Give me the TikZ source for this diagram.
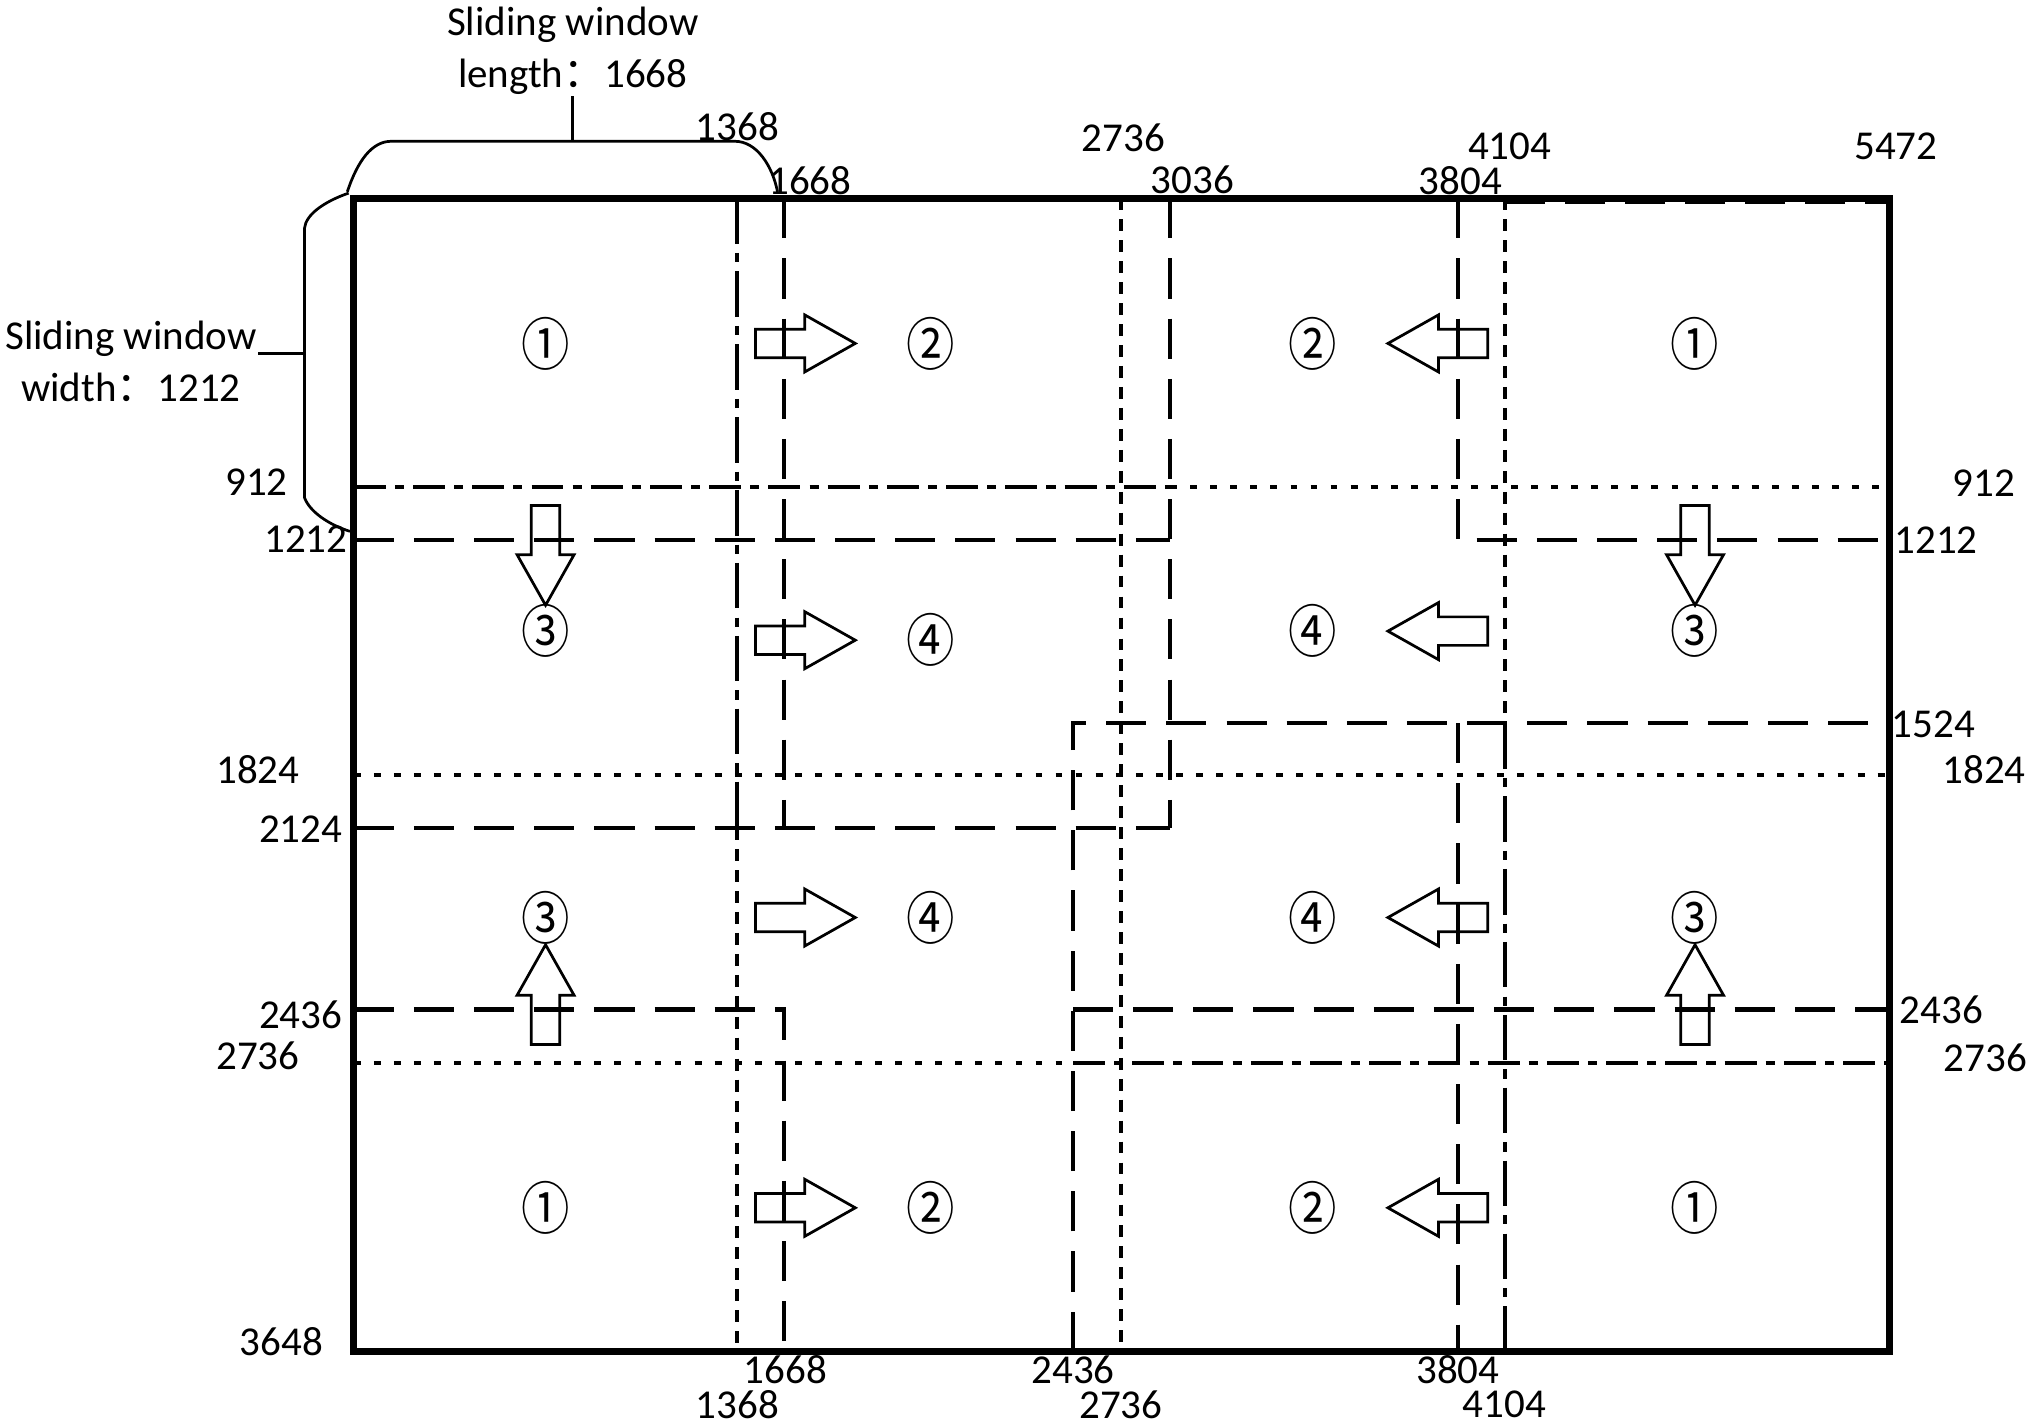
\documentclass[tikz,border=0pt]{standalone}
\usepackage{graphicx}
\usepackage{fontspec}
\setmainfont{Carlito}
\newfontfamily\cjk{Noto Sans CJK SC}
\usetikzlibrary{positioning}
\newcommand{\circled}[1]{\scalebox{0.85}[1]{#1}}

\begin{document}
\begin{tikzpicture}[
      x=0.01cm, y=-0.01cm,
      frame/.style={line width=1.5pt},
      dashedline/.style={line width=0.9pt, dash pattern=on 8.8pt off 4.4pt},
      hdots/.style={line width=0.9pt, dash pattern=on 1.5pt off 2.9pt},
      vdots/.style={line width=0.9pt, dash pattern=on 2.6pt off 2pt},
      hdashdot/.style={line width=0.9pt, dash pattern=on 7pt off 2pt on 2pt off 2pt},
      vdashdot/.style={line width=0.9pt, dash pattern=on 10pt off 2pt on 2pt off 2pt},
      brace/.style={line width=0.6pt},
      num/.style={font=\fontsize{9}{11}\selectfont, inner sep=0pt},
      caption/.style={font=\fontsize{9}{11.4}\selectfont, align=center, inner sep=0pt},
      cnum/.style={font=\cjk\fontsize{12.5}{14}\selectfont, inner sep=0pt},
      fatarrow/.pic={\draw[line width=0.6pt, line join=miter]
        (0,-11) -- (38,-11) -- (38,-22) -- (77,0) -- (38,22) -- (38,11) -- (0,11) -- cycle;},
    ]
    \useasboundingbox (0,0) rectangle (1568,1099);

    % grid lines
    \draw[vdots] (865,153) -- (865,1043);
    \draw[vdots] (569,639) -- (569,1043);
    \draw[vdots] (1161,153) -- (1161,558);
    \draw[hdots] (273,598) -- (1458,598);
    \draw[hdots] (903,376) -- (1458,376);
    \draw[hdots] (273,820) -- (828,820);

    % window start edges
    \draw[vdashdot] (569,153) -- (569,639);
    \draw[vdashdot] (1161,558) -- (1161,1043);
    \draw[hdashdot] (273,376) -- (903,376);
    \draw[hdashdot] (828,820) -- (1458,820);

    % window end edges
    \draw[dashedline] (605,153) -- (605,639);
    \draw[dashedline] (903,153) -- (903,639);
    \draw[dashedline] (273,417) -- (903,417);
    \draw[dashedline] (273,639) -- (903,639);
    \draw[dashedline] (273,779) -- (605,779) -- (605,1043);
    \draw[dashedline] (1125,153) -- (1125,417) -- (1458,417);
    \draw[dashedline] (828,1043) -- (828,558) -- (1458,558);
    \draw[dashedline] (828,779) -- (1458,779);
    \draw[dashedline] (1125,558) -- (1125,1043);
    \draw[dashedline] (1161,155.5) -- (1458,155.5);

    \draw[frame] (273,153) rectangle (1458,1043);

    % braces
    \draw[brace] (268,148) .. controls (276,124) and (287,109) .. (302,109)
      -- (567,109) .. controls (584,109) and (596,128) .. (600,148);
    \draw[brace] (442,109) -- (442,74);
    \draw[brace] (269,149) .. controls (249,156) and (236,166) .. (235,176)
      -- (235,384) .. controls (239,395) and (254,405) .. (270,410);
    \draw[brace] (235,273) -- (199,273);
    \node[caption] (lenlab) at (442,39) {Sliding window\\length{\cjk ：}1668};
    \node[caption] (widlab) at (101,279) {Sliding window\\width{\cjk ：}1212};

    % moving directions
    \pic at (583,265) {fatarrow};
    \pic[rotate=180] at (1148,265) {fatarrow};
    \pic[rotate=-90] at (421,390) {fatarrow};
    \pic[rotate=-90] at (1308,390) {fatarrow};
    \pic at (583,494) {fatarrow};
    \pic[rotate=180] at (1148,487) {fatarrow};
    \pic at (583,708) {fatarrow};
    \pic[rotate=180] at (1148,708) {fatarrow};
    \pic[rotate=90] at (421,806) {fatarrow};
    \pic[rotate=90] at (1308,806) {fatarrow};
    \pic at (583,932) {fatarrow};
    \pic[rotate=180] at (1148,932) {fatarrow};

    % window numbers
    \node[cnum] (w11) at (421,265)  {\circled{①}};
    \node[cnum] (w12) at (718,265)  {\circled{②}};
    \node[cnum] (w13) at (1013,265) {\circled{②}};
    \node[cnum] (w14) at (1308,265) {\circled{①}};
    \node[cnum] (w21) at (421,487)  {\circled{③}};
    \node[cnum] (w22) at (718,494)  {\circled{④}};
    \node[cnum] (w23) at (1013,487) {\circled{④}};
    \node[cnum] (w24) at (1308,487) {\circled{③}};
    \node[cnum] (w31) at (421,708)  {\circled{③}};
    \node[cnum] (w32) at (718,708)  {\circled{④}};
    \node[cnum] (w33) at (1013,708) {\circled{④}};
    \node[cnum] (w34) at (1308,708) {\circled{③}};
    \node[cnum] (w41) at (421,932)  {\circled{①}};
    \node[cnum] (w42) at (718,932)  {\circled{②}};
    \node[cnum] (w43) at (1013,932) {\circled{②}};
    \node[cnum] (w44) at (1308,932) {\circled{①}};

    % coordinates on top
    \node[num] (t1368) at (569,98)  {1368};
    \node[num] (t1668) at (625,139) {1668};
    \node[num] (t2736) at (867,106) {2736};
    \node[num] (t3036) at (920,139) {3036};
    \node[num] (t3804) at (1127,139) {3804};
    \node[num] (t4104) at (1165,113) {4104};
    \node[num] (t5472) at (1463,113) {5472};
    % coordinates at the bottom
    \node[num] (b1668) at (606,1057) {1668};
    \node[num] (b1368) at (569,1084) {1368};
    \node[num] (b2436) at (828,1057) {2436};
    \node[num] (b2736) at (865,1084) {2736};
    \node[num] (b3804) at (1125,1057) {3804};
    \node[num] (b4104) at (1161,1084) {4104};
    % coordinates on the left
    \node[num] (l912)  at (198,372) {912};
    \node[num] (l1212) at (236,416) {1212};
    \node[num] (l1824) at (199,594) {1824};
    \node[num] (l2124) at (232,640) {2124};
    \node[num] (l2436) at (232,783) {2436};
    \node[num] (l2736) at (199,815) {2736};
    \node[num] (l3648) at (217,1035) {3648};
    % coordinates on the right
    \node[num] (r912)  at (1531,373) {912};
    \node[num] (r1212) at (1494,417) {1212};
    \node[num] (r1524) at (1492,559) {1524};
    \node[num] (r1824) at (1531,594) {1824};
    \node[num] (r2436) at (1498,779) {2436};
    \node[num] (r2736) at (1532,816) {2736};
  \end{tikzpicture}
\end{document}
